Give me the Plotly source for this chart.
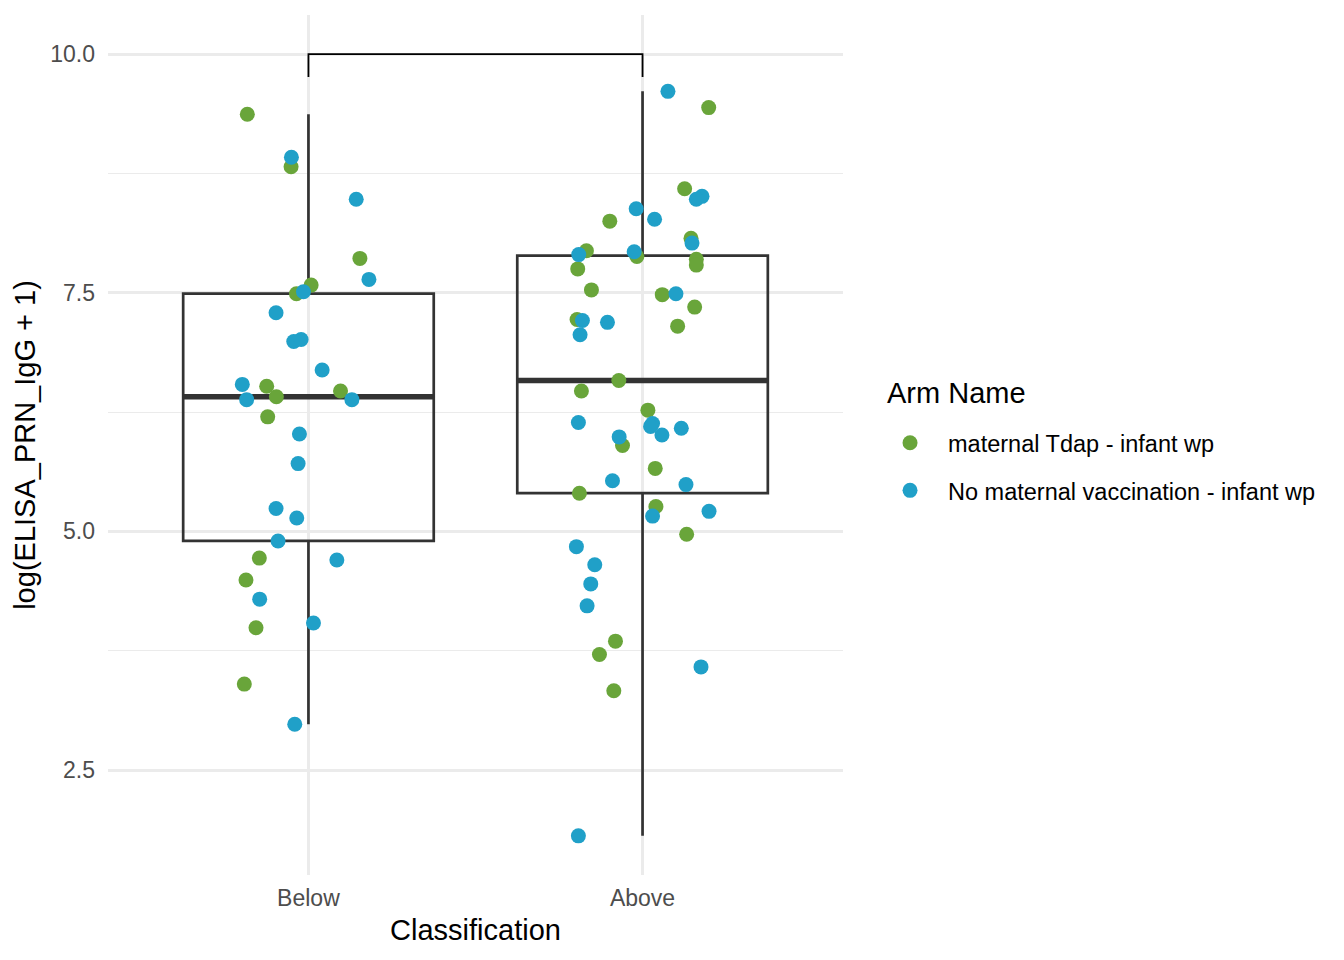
import plotly.graph_objects as go

# classification categories (x positions 1 and 2)
categories = ["Below", "Above"]

# maternal Tdap - infant wp
tdap_below = [9.37, 8.82, 7.86, 7.58, 7.49, 6.52, 6.47, 6.41, 6.20, 4.72, 4.49, 3.99, 3.40]
tdap_below_jitter = [-0.183, -0.052, 0.154, 0.008, -0.036, -0.125, 0.096, -0.096, -0.122, -0.147, -0.187, -0.157, -0.192]
tdap_above = [9.44, 8.59, 8.25, 8.07, 7.94, 7.88, 7.85, 7.79, 7.75, 7.53, 7.48, 7.35, 7.22, 7.15,
              6.58, 6.47, 6.27, 5.90, 5.66, 5.40, 5.26, 4.97, 3.85, 3.71, 3.33]
tdap_above_jitter = [0.198, 0.126, -0.098, 0.145, -0.168, -0.017, 0.161, 0.161, -0.194, -0.153, 0.059, 0.156, -0.196, 0.105,
                     -0.071, -0.183, 0.016, -0.060, 0.038, -0.189, 0.040, 0.132, -0.081, -0.129, -0.086]

# No maternal vaccination - infant wp
novax_below = [8.92, 8.48, 7.64, 7.51, 7.29, 6.99, 7.01, 6.69, 6.54, 6.38, 6.38, 6.02, 5.71, 5.24,
               5.14, 4.90, 4.70, 4.29, 4.04, 2.98]
novax_below_jitter = [-0.051, 0.143, 0.181, -0.015, -0.097, -0.044, -0.022, 0.041, -0.198, -0.185, 0.130, -0.027, -0.031, -0.097,
                      -0.035, -0.091, 0.085, -0.146, 0.015, -0.041]
novax_above = [9.61, 8.51, 8.48, 8.38, 8.27, 8.02, 7.90, 7.93, 7.49, 7.21, 7.19, 7.06, 6.14, 6.13,
               6.10, 6.01, 6.08, 5.99, 5.53, 5.49, 5.16, 5.21, 4.84, 4.65, 4.45, 4.22, 3.58, 1.81]
novax_above_jitter = [0.076, 0.178, 0.161, -0.019, 0.036, 0.148, -0.191, -0.025, 0.100, -0.180, -0.105, -0.187, -0.192, 0.030,
                      0.024, 0.058, 0.116, -0.070, -0.090, 0.130, 0.030, 0.199, -0.198, -0.143, -0.155, -0.166, 0.175, -0.192]

# boxplot stats per category
box_low = [2.98, 1.81]
box_q1 = [4.90, 5.40]
box_median = [6.41, 6.58]
box_q3 = [7.49, 7.89]
box_high = [9.37, 9.61]

# significance bracket
bracket_y = 10.0
bracket_tip = 9.76

green = "#69A53A"
blue = "#20A0C8"
dark = "#333333"
font = "Liberation Sans, Arial, sans-serif"
box_w = 0.75

fig = go.Figure()

for i, cat in enumerate(categories):
    xc = i + 1
    fig.add_trace(go.Box(
        x=[xc], q1=[box_q1[i]], median=[box_median[i]], q3=[box_q3[i]],
        lowerfence=[box_low[i]], upperfence=[box_high[i]],
        width=box_w, whiskerwidth=0, boxpoints=False,
        fillcolor="rgba(0,0,0,0)", line=dict(color=dark, width=2.7),
        showlegend=False, hoverinfo="skip"))
    # thicker median line like ggplot
    fig.add_trace(go.Scatter(
        x=[xc - box_w / 2, xc + box_w / 2], y=[box_median[i], box_median[i]],
        mode="lines", line=dict(color=dark, width=5.4),
        showlegend=False, hoverinfo="skip"))

fig.add_trace(go.Scatter(
    x=[1, 1, 2, 2], y=[bracket_tip, bracket_y, bracket_y, bracket_tip],
    mode="lines", line=dict(color="black", width=1.8),
    showlegend=False, hoverinfo="skip"))

tdap_x = [1 + j for j in tdap_below_jitter] + [2 + j for j in tdap_above_jitter]
novax_x = [1 + j for j in novax_below_jitter] + [2 + j for j in novax_above_jitter]

fig.add_trace(go.Scatter(
    x=tdap_x, y=tdap_below + tdap_above, mode="markers",
    marker=dict(color=green, size=15, line=dict(width=0)),
    name="maternal Tdap - infant wp", legendgroup="a"))
fig.add_trace(go.Scatter(
    x=novax_x, y=novax_below + novax_above, mode="markers",
    marker=dict(color=blue, size=15, line=dict(width=0)),
    name="No maternal vaccination - infant wp", legendgroup="b"))

# legend title as a separate label so the gap below it matches
fig.add_annotation(
    text="Arm Name", xref="paper", yref="paper",
    x=1.0571, y=0.5605, xanchor="left", yanchor="middle",
    showarrow=False, font=dict(size=29, color="black"))

fig.update_layout(
    width=1344, height=960,
    margin=dict(l=100, r=509, t=7, b=93),
    plot_bgcolor="white", paper_bgcolor="white",
    font=dict(family=font, size=23, color="black"),
    boxmode="overlay",
    legend=dict(
        x=1.0395, xanchor="left", y=0.4744, yanchor="middle",
        font=dict(size=23.5), itemwidth=66,
        tracegroupgap=14, traceorder="grouped"),
    xaxis=dict(
        range=[0.4, 2.6], tickvals=[1, 2], ticktext=categories,
        showgrid=True, gridcolor="#EBEBEB", gridwidth=2.8,
        zeroline=False, showline=False, ticks="", ticklabelstandoff=7,
        tickfont=dict(size=23, color="#4D4D4D"),
        title=dict(text="Classification", font=dict(size=29), standoff=9)),
    yaxis=dict(
        range=[1.40, 10.41], tick0=0, dtick=2.5, tickformat=".1f",
        showgrid=True, gridcolor="#EBEBEB", gridwidth=2.8,
        minor=dict(dtick=1.25, showgrid=True, gridcolor="#EBEBEB", gridwidth=1.4),
        zeroline=False, showline=False, ticks="", ticklabelstandoff=12,
        tickfont=dict(size=23, color="#4D4D4D"),
        title=dict(text="log(ELISA_PRN_IgG + 1)", font=dict(size=29), standoff=6)),
)

fig.write_html("out.html")
